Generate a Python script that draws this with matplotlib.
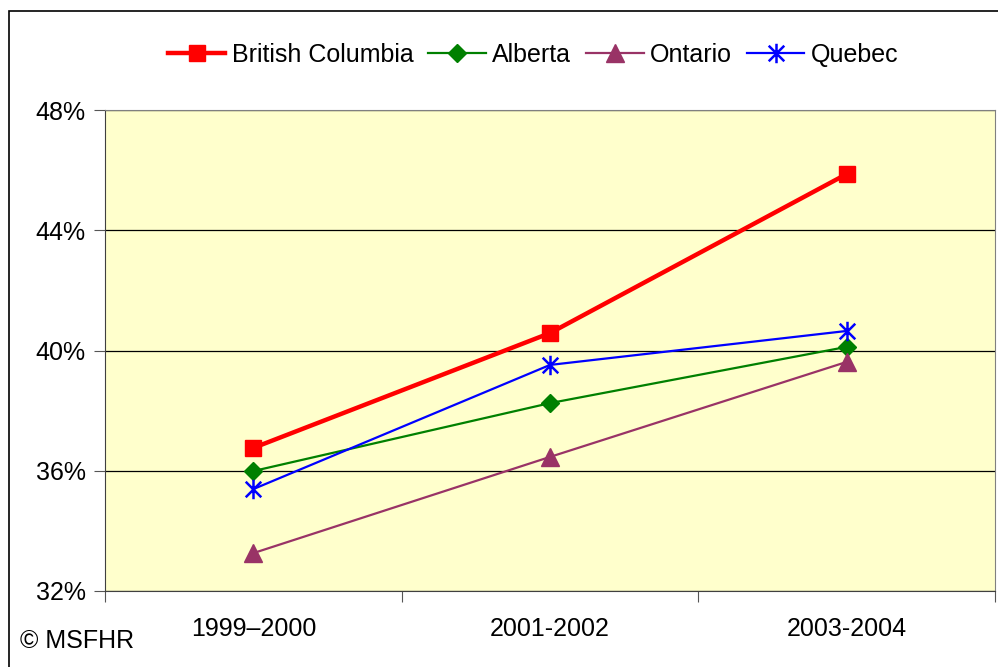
import matplotlib.pyplot as plt
import numpy as np
from matplotlib.patches import Rectangle
from matplotlib.path import Path

plt.rcParams['font.family'] = ['Liberation Sans', 'DejaVu Sans']

periods = ['1999–2000', '2001-2002', '2003-2004']
bc = [36.76, 40.58, 45.87]
alberta = [35.99, 38.25, 40.12]
ontario = [33.26, 36.46, 39.62]
quebec = [35.39, 39.52, 40.65]

# Excel-style star marker: an x with a vertical bar
star = Path([(-1, -1), (1, 1), (-1, 1), (1, -1), (0, -1.25), (0, 1.25)],
            [Path.MOVETO, Path.LINETO] * 3)

fig = plt.figure(figsize=(9.98, 6.67), dpi=100)
fig.patches.append(Rectangle((9 / 998, -0.1), 1.2, (667 - 11) / 667 + 0.1,
                             transform=fig.transFigure, fill=False,
                             edgecolor='black', linewidth=1.2))

ax = fig.add_axes([105 / 998, (667 - 591) / 667, 890 / 998, 481 / 667])
ax.set_facecolor('#FFFFCC')

x = np.arange(len(periods))
ax.plot(x, bc, color='#FF0000', lw=3.2, marker='s', ms=11, label='British Columbia')
ax.plot(x, alberta, color='#008000', lw=1.6, marker='D', ms=9, label='Alberta')
ax.plot(x, ontario, color='#993366', lw=1.6, marker='^', ms=13, label='Ontario')
ax.plot(x, quebec, color='#0000FF', lw=1.6, marker=star, ms=14, mew=1.8, label='Quebec')

ax.set_xlim(-0.5, 2.5)
ax.set_ylim(32, 48)
ax.set_yticks([32, 36, 40, 44, 48])
ax.set_yticklabels(['32%', '36%', '40%', '44%', '48%'], fontsize=18)
ax.set_xticks([-0.5, 0.5, 1.5, 2.5])
ax.set_xticklabels([])
ax.set_xticks(x, minor=True)
ax.set_xticklabels(periods, minor=True, fontsize=18)
ax.tick_params(axis='x', which='minor', length=0, pad=19)
ax.tick_params(axis='x', which='major', direction='out', length=8, color='#555555')
ax.tick_params(axis='y', direction='out', length=8, color='#555555', pad=6)
ax.yaxis.grid(True, color='black', lw=0.9)
ax.set_axisbelow(True)
for s in ['top', 'right']:
    ax.spines[s].set_color('#808080')
for s in ['left', 'bottom']:
    ax.spines[s].set_color('#404040')

ax.legend(loc='center', bbox_to_anchor=(533 / 998, (667 - 55) / 667), bbox_transform=fig.transFigure,
          ncol=4, frameon=False, fontsize=18, handlelength=2.3, handletextpad=0.25,
          columnspacing=0.6)

fig.text(20 / 998, (667 - 641) / 667, '© MSFHR', fontsize=18, va='center')

fig.savefig('out.png', dpi=100)
